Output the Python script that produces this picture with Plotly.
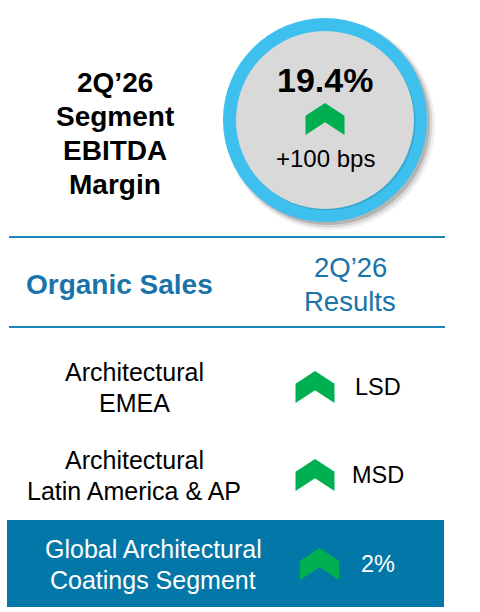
import plotly.graph_objects as go

# chart content
title_lines = ["2Q\u201926", "Segment", "EBITDA", "Margin"]
margin_value = "19.4%"
margin_change = "+100 bps"
margin_direction = "up"

header_left = "Organic Sales"
header_right = ["2Q\u201926", "Results"]

segments = [
    ["Architectural", "EMEA"],
    ["Architectural", "Latin America & AP"],
    ["Global Architectural", "Coatings Segment"],
]
results = ["LSD", "MSD", "2%"]
directions = ["up", "up", "up"]

FONT = "Liberation Sans, Arial, Helvetica, sans-serif"
BLUE_TEXT = "#1A73A9"
BLUE_LINE = "#1F86BC"
BOX = "#0277A8"
GREEN = "#00B050"
RING = "#3DC0EE"
GRAY = "#D9D9D9"

W, H = 480, 612


def chevron(cx, cy, w=39, h=32):
    # upward chevron: outer arm, right side, inner notch, left side
    xs = [cx - w / 2, cx, cx + w / 2, cx + w / 2, cx, cx - w / 2, cx - w / 2]
    ys = [cy - h / 2 + 0.4 * h, cy - h / 2, cy - h / 2 + 0.4 * h,
          cy + h / 2, cy - h / 2 + 0.6 * h, cy + h / 2, cy - h / 2 + 0.4 * h]
    return xs, ys


fig = go.Figure()

shapes = []
# circle with soft shadow
cx, cy, r_out, r_in = 325, 120, 102, 89
for off, grow, alpha in [(5, 3, 0.06), (4, 1.5, 0.10), (3, 0, 0.16)]:
    shapes.append(dict(type="circle", xref="x", yref="y",
                       x0=cx - r_out - grow + off, x1=cx + r_out + grow + off,
                       y0=cy - r_out - grow + off, y1=cy + r_out + grow + off,
                       fillcolor=f"rgba(0,0,0,{alpha})", line_width=0, layer="below"))
shapes.append(dict(type="circle", xref="x", yref="y",
                   x0=cx - r_out, x1=cx + r_out, y0=cy - r_out, y1=cy + r_out,
                   fillcolor=RING, line_width=0, layer="below"))
shapes.append(dict(type="circle", xref="x", yref="y",
                   x0=cx - r_in + 1.5, x1=cx + r_in + 1.5, y0=cy - r_in + 1.5, y1=cy + r_in + 1.5,
                   fillcolor="rgba(0,0,0,0.12)", line_width=0, layer="below"))
shapes.append(dict(type="circle", xref="x", yref="y",
                   x0=cx - r_in, x1=cx + r_in, y0=cy - r_in, y1=cy + r_in,
                   fillcolor=GRAY, line_width=0, layer="below"))

# table rules and highlighted total row
for ly in [237, 327]:
    shapes.append(dict(type="line", xref="x", yref="y", x0=9, x1=445, y0=ly, y1=ly,
                       line=dict(color=BLUE_LINE, width=2)))
shapes.append(dict(type="rect", xref="x", yref="y", x0=7, x1=444, y0=520, y1=607,
                   fillcolor=BOX, line_width=0, layer="below"))

annotations = []


def add_text(x, y, text, size, color, bold=False):
    annotations.append(dict(x=x, y=y, xref="x", yref="y", text=f"<b>{text}</b>" if bold else text,
                            showarrow=False, xanchor="center", yanchor="middle",
                            font=dict(family=FONT, size=size, color=color)))


for i, line in enumerate(title_lines):
    add_text(115, 82 + i * 34.2, line, 28, "#000000", bold=True)

add_text(cx, 80, margin_value, 34, "#000000", bold=True)
add_text(cx, 158, margin_change, 24, "#000000")

add_text(119, 284, header_left, 28, BLUE_TEXT, bold=True)
for i, line in enumerate(header_right):
    add_text(350, 267 + i * 34.5, line, 27.5, BLUE_TEXT)

row_y = [387, 475, 564]
row_label_x = [134, 134, 153]
for k, (lines, res) in enumerate(zip(segments, results)):
    color = "#FFFFFF" if k == len(segments) - 1 else "#000000"
    for i, line in enumerate(lines):
        add_text(row_label_x[k], row_y[k] - 15 + i * 30.5, line, 25, color)
    add_text(378, row_y[k], res, 23.5, color)

# direction chevrons
chev_pos = [(315, 387), (315, 475), (319.5, 564)]
xs_all, ys_all = [], []
for (px, py), d in zip([(cx, 119)] + chev_pos, [margin_direction] + directions):
    if d != "up":
        continue
    xs, ys = chevron(px, py)
    xs_all += xs + [None]
    ys_all += ys + [None]
fig.add_trace(go.Scatter(x=xs_all, y=ys_all, mode="lines", fill="toself",
                         fillcolor=GREEN, line=dict(width=0, color=GREEN),
                         hoverinfo="skip", showlegend=False))

fig.update_layout(
    width=W, height=H, margin=dict(l=0, r=0, t=0, b=0),
    paper_bgcolor="white", plot_bgcolor="white",
    xaxis=dict(range=[0, W], visible=False, fixedrange=True),
    yaxis=dict(range=[H, 0], visible=False, fixedrange=True),
    shapes=shapes, annotations=annotations, showlegend=False,
)
# drop the default page margin so the figure sits at the window's top-left
fig.write_html("out.html", config={"displayModeBar": False},
               post_script="document.body.style.margin='0';")
